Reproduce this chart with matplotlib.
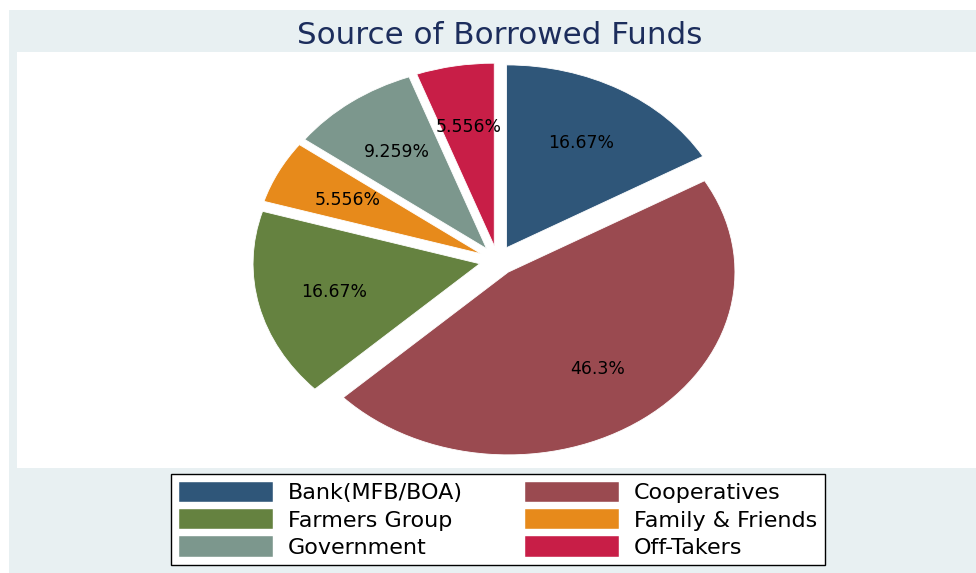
import matplotlib
matplotlib.use("Agg")
import matplotlib.pyplot as plt
from matplotlib.patches import Rectangle

# shares of respondents by source of borrowed funds (%)
sources = ["Bank(MFB/BOA)", "Cooperatives", "Farmers Group",
           "Family & Friends", "Government", "Off-Takers"]
shares = [16.67, 46.3, 16.67, 5.556, 9.259, 5.556]
colors = ["#2f5679", "#9a4a50", "#658240", "#e78a1b", "#7c978d", "#c81e47"]

W, H = 976, 573
fig = plt.figure(figsize=(W / 100, H / 100), dpi=100, facecolor="white")

# light graph region behind everything
fig.patches.append(Rectangle((9 / W, 0), (W - 9) / W, (H - 10) / H,
                             transform=fig.transFigure, facecolor="#e8f0f2",
                             edgecolor="none", zorder=-2))

# white plot region
ax = fig.add_axes([17 / W, (H - 468) / H, (W - 17) / W, 416 / H])
ax.set_facecolor("white")

wedges, _, autotexts = ax.pie(
    shares, colors=colors, startangle=90, counterclock=False,
    explode=[0.08] * len(shares), autopct="%1.1f%%", pctdistance=0.66,
    wedgeprops=dict(linewidth=0.6, edgecolor="white"),
    textprops=dict(fontsize=12.4, color="black"))
for t, v in zip(autotexts, shares):
    t.set_text(f"{v:.4g}%")

# stretch the pie into an ellipse like the exported graph
ax.set_aspect("auto")
ax.set_xlim(-2.119, 2.111)
ax.set_ylim(-1.136, 1.140)
ax.set_frame_on(True)
for s in ax.spines.values():
    s.set_visible(False)
ax.set_xticks([])
ax.set_yticks([])

fig.text(499.5 / W, (H - 43.5) / H, "Source of Borrowed Funds",
         ha="center", va="baseline", fontsize=22.3, color="#1c2d5c")

# legend, filled row by row
order = [0, 2, 4, 1, 3, 5]
leg = fig.legend([wedges[i] for i in order], [sources[i] for i in order],
                 ncol=2, loc="upper left",
                 bbox_to_anchor=(171 / W, (H - 474) / H, 654 / W, 0),
                 mode="expand", borderaxespad=0, fontsize=16,
                 handlelength=4.25, handleheight=1.05, handletextpad=0.68,
                 labelspacing=0.24, borderpad=0.34, columnspacing=2.0,
                 fancybox=False, frameon=True, framealpha=1)
leg.get_frame().set_facecolor("white")
leg.get_frame().set_edgecolor("black")
leg.get_frame().set_linewidth(1.0)
for h in leg.legend_handles:
    h.set_linewidth(0.3)

fig.savefig("out.png", dpi=100, facecolor="white")
